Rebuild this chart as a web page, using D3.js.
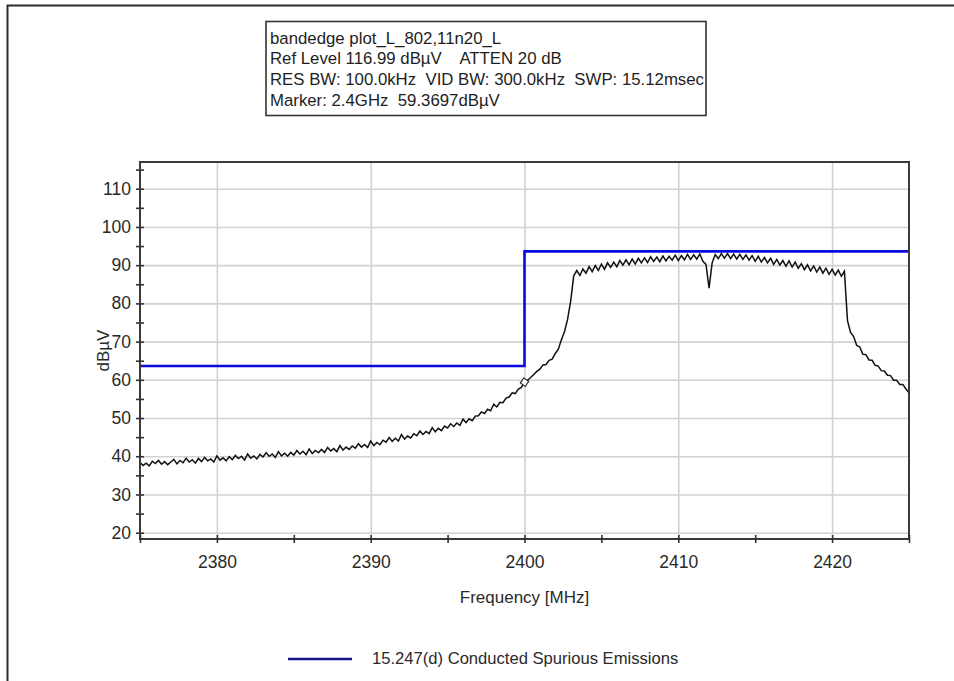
<!DOCTYPE html>
<html>
<head>
<meta charset="utf-8">
<script src="https://cdn.jsdelivr.net/npm/d3@7"></script>
<style>
  body { margin: 0; background: #fff; }
  svg { display: block; font-family: "Liberation Sans", Arial, sans-serif; }
  .tick text { fill: #2a2a2a; }
</style>
</head>
<body>
<svg id="chart" width="954" height="681"></svg>
<script>
// analyzer header lines
var infoLines = [
    "bandedge plot_L_802,11n20_L",
    "Ref Level 116.99 dB\u00b5V    ATTEN 20 dB",
    "RES BW: 100.0kHz  VID BW: 300.0kHz  SWP: 15.12msec",
    "Marker: 2.4GHz  59.3697dB\u00b5V"
];

// sweep: 2375 .. 2425 MHz, one reading every 0.2 MHz (one row = 1 MHz)
var sweepStart = 2375;
var sweepStep = 0.2;
var traceLevels = [
    38.4, 37.6, 38.2, 37.5, 38.7,
    38.1, 38.9, 37.9, 38.6, 37.8,
    38.5, 39.2, 38.0, 38.9, 38.3,
    39.5, 38.5, 39.1, 38.2, 39.4,
    38.6, 39.7, 38.8, 39.3, 38.5,
    40.1, 39.0, 39.6, 38.8, 39.9,
    39.1, 40.2, 39.4, 40.0, 39.0,
    40.6, 39.5, 40.1, 39.3, 40.5,
    39.8, 40.9, 40.0, 40.6, 39.7,
    41.2, 40.1, 40.8, 40.0, 41.0,
    40.3, 41.5, 40.6, 41.3, 40.4,
    41.9, 40.7, 41.5, 40.9, 41.8,
    41.0, 42.3, 41.4, 42.0, 41.2,
    42.8, 41.6, 42.4, 41.8, 42.7,
    42.1, 43.3, 42.4, 43.1, 42.3,
    44.0, 42.8, 43.6, 43.0, 44.2,
    43.7, 44.9, 43.9, 44.7, 44.0,
    45.7, 44.5, 45.3, 44.8, 45.9,
    45.4, 46.6, 45.7, 46.5, 45.9,
    47.5, 46.4, 47.3, 46.7, 47.9,
    47.4, 48.5, 47.8, 48.7, 48.1,
    49.7, 48.8, 49.8, 49.3, 50.5,
    50.6, 51.6, 51.2, 52.3, 51.9,
    53.6, 52.9, 54.1, 54.0, 55.2,
    55.5, 56.6, 56.4, 57.6, 58.0,
    59.4, 59.9, 60.6, 61.4, 62.2,
    62.8, 63.9, 64.0, 65.1, 65.4,
    66.9, 68.0, 70.5, 72.6, 75.8,
    80.5, 87.2, 88.6, 87.3, 89.0,
    87.9, 89.6, 88.3, 89.9, 88.6,
    90.3, 88.9, 90.6, 89.4, 90.8,
    89.6, 91.2, 90.0, 91.4, 90.1,
    91.6, 90.3, 91.8, 90.6, 91.9,
    90.7, 92.2, 91.0, 92.1, 90.9,
    92.4, 91.1, 92.3, 91.3, 92.6,
    91.2, 92.5, 91.4, 92.8, 91.5,
    92.7, 91.6, 92.9, 91.0, 90.2,
    84.0, 90.6, 92.8, 91.7, 93.0,
    91.8, 93.0, 91.7, 92.9, 91.6,
    92.8, 91.5, 92.7, 91.3, 92.5,
    91.0, 92.3, 90.8, 92.0, 90.6,
    91.8, 90.2, 91.5, 90.0, 91.2,
    89.7, 91.1, 89.5, 90.8, 89.2,
    90.4, 88.8, 90.1, 88.5, 89.8,
    88.2, 89.5, 87.9, 89.2, 87.6,
    88.9, 87.4, 88.7, 87.1, 88.4,
    75.5, 72.4, 71.3, 69.0, 68.6,
    66.7, 66.6, 65.2, 65.1, 63.8,
    63.6, 62.4, 62.3, 61.2, 61.1,
    59.9, 59.9, 58.8, 58.8, 57.6,
    56.6
];

// 15.247(d) limit line (step at band edge)
var limitFreqs = [2375, 2400, 2400, 2425];
var limitLevels = [63.6, 63.6, 93.6, 93.6];

var markerFreq = 2400;
var markerLevel = 59.37;

var xMajor = [2380, 2390, 2400, 2410, 2420];
var xMinor = [2375, 2385, 2395, 2405, 2415, 2425];
var yMajor = [20, 30, 40, 50, 60, 70, 80, 90, 100, 110];
var yMinor = [25, 35, 45, 55, 65, 75, 85, 95, 105, 115];

var legendLabel = "15.247(d) Conducted Spurious Emissions";

var svg = d3.select("#chart");
var plotLeft = 140, plotRight = 909, plotTop = 162, plotBottom = 539;

var x = d3.scaleLinear().domain([2375, 2425]).range([plotLeft, plotRight]);
var y = d3.scaleLinear().domain([18.35, 116.99]).range([plotBottom, plotTop]);

// outer window frame
svg.append("path")
    .attr("d", "M7.5,681V5.5H954")
    .attr("fill", "none")
    .attr("stroke", "#2b2b2b")
    .attr("stroke-width", 2);

// info box
svg.append("rect")
    .attr("x", 266).attr("y", 21.5)
    .attr("width", 440).attr("height", 94)
    .attr("fill", "#fff")
    .attr("stroke", "#333")
    .attr("stroke-width", 1.6);

svg.append("g")
    .selectAll("text")
    .data(infoLines)
    .enter()
    .append("text")
    .attr("x", 270)
    .attr("y", (d, i) => 43.5 + i * 20.8)
    .style("font-size", "16.8px")
    .style("fill", "#1e1e1e")
    .style("white-space", "pre")
    .attr("xml:space", "preserve")
    .text((d) => d);

// gridlines
svg.append("g")
    .attr("transform", "translate(0," + plotBottom + ")")
    .call(d3.axisBottom(x).tickValues(xMajor).tickSize(-(plotBottom - plotTop)).tickFormat(""))
    .call((g) => g.select(".domain").remove())
    .selectAll("line")
    .attr("stroke", "#d2d2d2")
    .attr("stroke-width", 1.6);

svg.append("g")
    .attr("transform", "translate(" + plotLeft + ",0)")
    .call(d3.axisLeft(y).tickValues(yMajor).tickSize(-(plotRight - plotLeft)).tickFormat(""))
    .call((g) => g.select(".domain").remove())
    .selectAll("line")
    .attr("stroke", "#d2d2d2")
    .attr("stroke-width", 1.6);

// limit line
var line = d3.line()
    .x((d) => x(d[0]))
    .y((d) => y(d[1]));

svg.append("path")
    .datum(limitFreqs.map((f, i) => [f, limitLevels[i]]))
    .attr("d", line)
    .attr("fill", "none")
    .attr("stroke", "#0a0ae0")
    .attr("stroke-width", 2.6);

// measured trace
svg.append("path")
    .datum(traceLevels.map((v, i) => [sweepStart + i * sweepStep, v]))
    .attr("d", line)
    .attr("fill", "none")
    .attr("stroke", "#111")
    .attr("stroke-width", 1.5)
    .attr("stroke-linejoin", "miter");

// marker
svg.append("rect")
    .attr("x", -3).attr("y", -3)
    .attr("width", 6).attr("height", 6)
    .attr("transform", "translate(" + x(markerFreq) + "," + y(markerLevel) + ") rotate(35)")
    .attr("fill", "#fff")
    .attr("stroke", "#222")
    .attr("stroke-width", 1.1);

// plot frame
svg.append("rect")
    .attr("x", plotLeft).attr("y", plotTop)
    .attr("width", plotRight - plotLeft).attr("height", plotBottom - plotTop)
    .attr("fill", "none")
    .attr("stroke", "#3a3a3a")
    .attr("stroke-width", 2);

// axes
var xAxis = svg.append("g")
    .attr("transform", "translate(0," + plotBottom + ")")
    .call(d3.axisBottom(x).tickValues(xMajor).tickSize(4).tickPadding(13).tickFormat(d3.format("d")));
xAxis.select(".domain").remove();
xAxis.selectAll("text").style("font-size", "17.5px");

var xMinorAxis = svg.append("g")
    .attr("transform", "translate(0," + plotBottom + ")")
    .call(d3.axisBottom(x).tickValues(xMinor).tickSize(4).tickFormat(""));
xMinorAxis.select(".domain").remove();

var yAxis = svg.append("g")
    .attr("transform", "translate(" + plotLeft + ",0)")
    .call(d3.axisLeft(y).tickValues(yMajor).tickSize(4).tickPadding(5).tickFormat(d3.format("d")));
yAxis.select(".domain").remove();
yAxis.selectAll("text").style("font-size", "17.5px");

var yMinorAxis = svg.append("g")
    .attr("transform", "translate(" + plotLeft + ",0)")
    .call(d3.axisLeft(y).tickValues(yMinor).tickSize(4).tickFormat(""));
yMinorAxis.select(".domain").remove();

// ticks cross the axis line
[xAxis, xMinorAxis].forEach((g) => g.selectAll(".tick line").attr("y1", -4).attr("stroke", "#333").attr("stroke-width", 1.6));
[yAxis, yMinorAxis].forEach((g) => g.selectAll(".tick line").attr("x1", 4).attr("stroke", "#333").attr("stroke-width", 1.6));

// axis titles
svg.append("text")
    .attr("x", (plotLeft + plotRight) / 2)
    .attr("y", 603)
    .attr("text-anchor", "middle")
    .style("font-size", "17px")
    .style("fill", "#2a2a2a")
    .text("Frequency [MHz]");

svg.append("text")
    .attr("transform", "translate(109," + ((plotTop + plotBottom) / 2) + ") rotate(-90)")
    .attr("text-anchor", "middle")
    .style("font-size", "17px")
    .style("fill", "#2a2a2a")
    .text("dB\u00b5V");

// legend
svg.append("line")
    .attr("x1", 288).attr("x2", 352)
    .attr("y1", 659).attr("y2", 659)
    .attr("stroke", "#14148c")
    .attr("stroke-width", 2.6);

svg.append("text")
    .attr("x", 372)
    .attr("y", 664)
    .style("font-size", "16.6px")
    .style("fill", "#2a2a2a")
    .text(legendLabel);
</script>
</body>
</html>
